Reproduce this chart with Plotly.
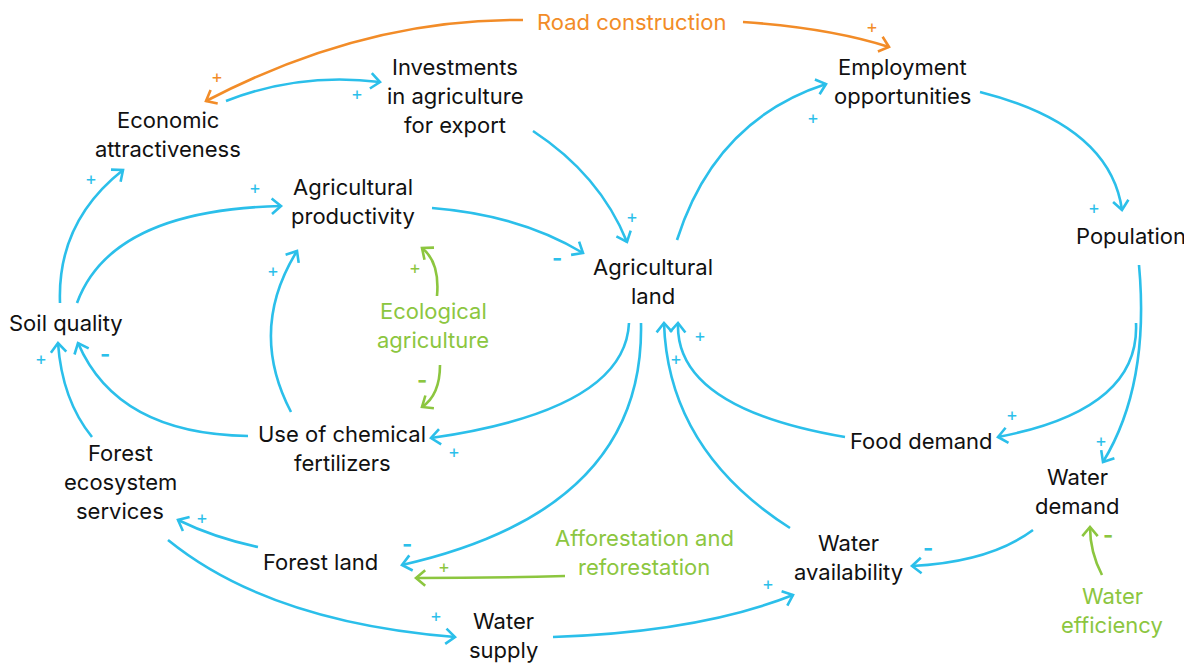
import math
import plotly.graph_objects as go

# ---------------- data: variables of the causal loop diagram ----------------
node_labels = [
    "Road construction", "Investments\nin agriculture\nfor export", "Economic\nattractiveness",
    "Employment\nopportunities", "Agricultural\nproductivity", "Population",
    "Agricultural\nland", "Soil quality", "Ecological\nagriculture",
    "Use of chemical\nfertilizers", "Food demand", "Forest\necosystem\nservices",
    "Water\ndemand", "Afforestation and\nreforestation", "Water\navailability",
    "Forest land", "Water\nsupply", "Water\nefficiency",
]
# kind: policy levers (external) vs. system variables
node_kind = [
    "road", "var", "var", "var", "var", "var", "var", "var", "policy",
    "var", "var", "var", "var", "policy", "var", "var", "var", "policy",
]

# causal links: source -> target, polarity
edge_source = [
    "Road construction", "Road construction", "Economic\nattractiveness",
    "Investments\nin agriculture\nfor export", "Agricultural\nland", "Employment\nopportunities",
    "Agricultural\nproductivity", "Soil quality", "Soil quality",
    "Use of chemical\nfertilizers", "Use of chemical\nfertilizers", "Forest\necosystem\nservices",
    "Ecological\nagriculture", "Ecological\nagriculture", "Agricultural\nland",
    "Agricultural\nland", "Water\navailability", "Food demand",
    "Population", "Population", "Water\ndemand",
    "Water\nefficiency", "Afforestation and\nreforestation", "Forest land",
    "Forest\necosystem\nservices", "Water\nsupply",
]
edge_target = [
    "Economic\nattractiveness", "Employment\nopportunities", "Investments\nin agriculture\nfor export",
    "Agricultural\nland", "Employment\nopportunities", "Population",
    "Agricultural\nland", "Economic\nattractiveness", "Agricultural\nproductivity",
    "Agricultural\nproductivity", "Soil quality", "Soil quality",
    "Agricultural\nproductivity", "Use of chemical\nfertilizers", "Use of chemical\nfertilizers",
    "Forest land", "Agricultural\nland", "Agricultural\nland",
    "Food demand", "Water\ndemand", "Water\navailability",
    "Water\ndemand", "Forest land", "Forest\necosystem\nservices",
    "Water\nsupply", "Water\navailability",
]
edge_polarity = [
    "+", "+", "+",
    "+", "+", "+",
    "-", "+", "+",
    "+", "-", "+",
    "+", "-", "+",
    "-", "+", "+",
    "+", "+", "-",
    "-", "+", "+",
    "+", "+",
]

# ---------------- layout geometry (pixel space of the 1192x664 canvas) ----------------
node_pos = [
    (631, 22), (455, 96), (168, 134),
    (902, 81), (353, 201), (1131, 236),
    (653, 281), (66, 323), (433, 325),
    (342, 448), (921, 441), (120, 482),
    (1077, 491), (644, 552), (848, 557),
    (320, 562), (503, 635), (1112, 610),
]
# quadratic curves: start, control, end
edge_geom = [
    ((523, 20), (365, 18), (206, 101)),
    ((743, 22), (830, 28), (889, 47)),
    ((226, 101), (300, 72), (380, 82)),
    ((533, 131), (600, 175), (627, 242)),
    ((677, 240), (715, 120), (826, 84)),
    ((980, 92), (1110, 125), (1122, 210)),
    ((432, 208), (520, 215), (583, 253)),
    ((60, 303), (57, 222), (123, 170)),
    ((77, 303), (111, 210), (281, 206)),
    ((291, 412), (248, 330), (297, 251)),
    ((248, 436), (117, 434), (78, 343)),
    ((92, 437), (62, 400), (58, 343)),
    ((437, 296), (440, 262), (422, 248)),
    ((440, 365), (440, 395), (422, 407)),
    ((629, 323), (625, 410), (431, 438)),
    ((641, 323), (645, 510), (402, 565)),
    ((790, 528), (668, 450), (664, 323)),
    ((845, 437), (675, 408), (678, 323)),
    ((1136, 323), (1140, 410), (998, 437)),
    ((1139, 265), (1150, 385), (1103, 462)),
    ((1033, 530), (990, 562), (912, 566)),
    ((1102, 575), (1090, 552), (1090, 527)),
    ((565, 576), (490, 578), (416, 578)),
    ((258, 547), (215, 538), (178, 520)),
    ((168, 540), (269, 622), (455, 637)),
    ((553, 637), (700, 632), (793, 595)),
]
sign_pos = [
    (217, 76), (872, 26), (357, 93),
    (632, 216), (813, 117), (1094, 207),
    (557, 258), (91, 178), (255, 187),
    (273, 270), (105, 354), (41, 358),
    (415, 267), (422, 380), (454, 451),
    (407, 544), (676, 358), (700, 335),
    (1012, 414), (1101, 440), (928, 548),
    (1108, 535), (444, 566), (202, 517),
    (436, 615), (768, 583),
]

BLUE = "#2BBFEA"
ORANGE = "#F28C28"
GREEN = "#8CC63F"
kind_color = {"var": "#111111", "road": ORANGE, "policy": GREEN}
FONT = "Inter"
LINE_H = 29
PAD = 8  # page body margin of the html page

fig = go.Figure()
fig.add_trace(go.Scatter(x=[PAD, 1192], y=[PAD, 664], mode="markers",
                         marker=dict(opacity=0), hoverinfo="skip", showlegend=False))

shapes = []
annotations = []

for (s, c, e), src, pol, sp in zip(edge_geom, edge_source, edge_polarity, sign_pos):
    k = node_kind[node_labels.index(src)]
    col = ORANGE if k == "road" else (GREEN if k == "policy" else BLUE)
    shapes.append(dict(type="path", path=f"M {s[0]},{s[1]} Q {c[0]},{c[1]} {e[0]},{e[1]}",
                       line=dict(color=col, width=2.6), layer="above"))
    dx, dy = e[0] - c[0], e[1] - c[1]
    n = math.hypot(dx, dy)
    ux, uy = dx / n, dy / n
    L, ang = 12, math.radians(40)
    pts = []
    for sgn in (1, -1):
        ca, sa = math.cos(sgn * ang), math.sin(sgn * ang)
        rx, ry = ux * ca - uy * sa, ux * sa + uy * ca
        pts.append((e[0] - L * rx, e[1] - L * ry))
    shapes.append(dict(type="path",
                       path=f"M {pts[0][0]:.1f},{pts[0][1]:.1f} L {e[0]},{e[1]} L {pts[1][0]:.1f},{pts[1][1]:.1f}",
                       line=dict(color=col, width=2.6), layer="above"))
    annotations.append(dict(x=sp[0], y=sp[1], text=("+" if pol == "+" else "<b>-</b>"),
                            showarrow=False, xanchor="center", yanchor="middle",
                            font=dict(family=FONT, size=18 if pol == "+" else 22, color=col)))

for label, kind, (x, y) in zip(node_labels, node_kind, node_pos):
    lines = label.split("\n")
    y0 = y - (len(lines) - 1) * LINE_H / 2
    for i, ln in enumerate(lines):
        annotations.append(dict(x=x, y=y0 + i * LINE_H, text=ln, showarrow=False,
                                xanchor="center", yanchor="middle",
                                font=dict(family=FONT, size=22, color=kind_color[kind])))

fig.update_layout(
    width=1192 - PAD, height=664 - PAD, margin=dict(l=0, r=0, t=0, b=0),
    paper_bgcolor="white", plot_bgcolor="white",
    xaxis=dict(range=[PAD, 1192], visible=False, fixedrange=True),
    yaxis=dict(range=[664, PAD], visible=False, fixedrange=True),
    shapes=shapes, annotations=annotations, showlegend=False,
)
fig.write_html("out.html")
